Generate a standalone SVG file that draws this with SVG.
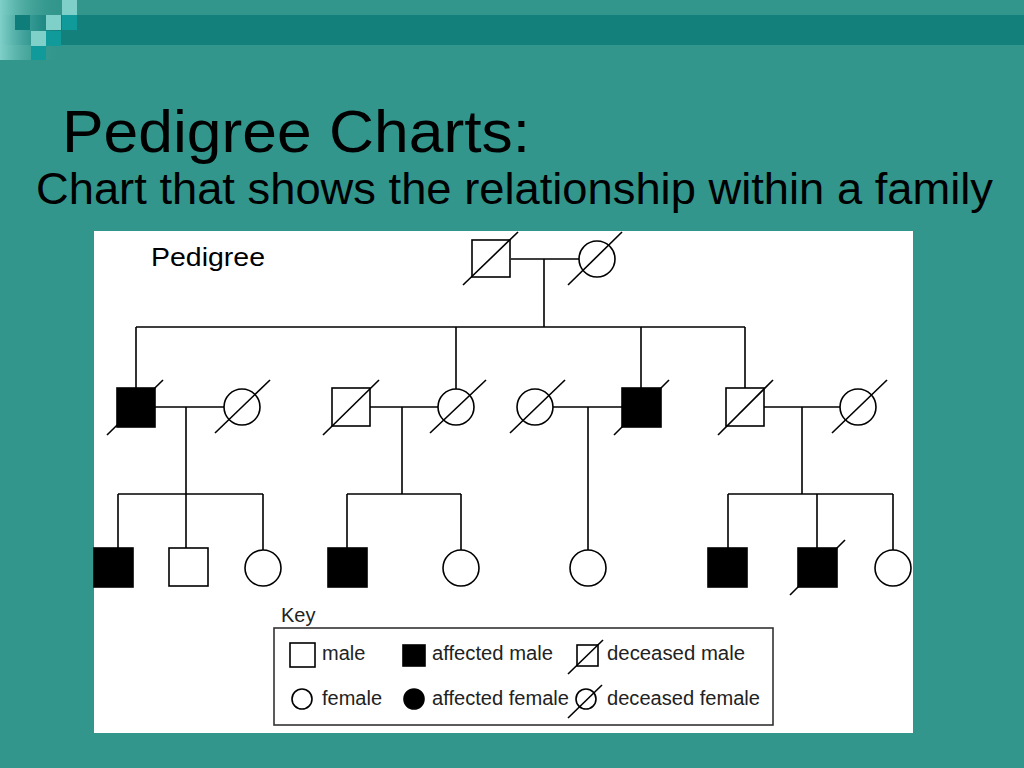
<svg xmlns="http://www.w3.org/2000/svg" width="1024" height="768" viewBox="0 0 1024 768">
<defs>
<linearGradient id="fade" x1="0" x2="1"><stop offset="0" stop-color="#7fd0c8"/><stop offset="1" stop-color="#32968c" stop-opacity="0"/></linearGradient>
</defs>
<style>
.ln{stroke:#000;stroke-width:1.6;fill:none}
.m{fill:#fff;stroke:#000;stroke-width:1.6}
.a{fill:#000;stroke:#000;stroke-width:1.6}
.t{font-family:"Liberation Sans",Arial,sans-serif;fill:#000}
.k{font-family:"Liberation Sans",Arial,sans-serif;font-size:20px;fill:#222}
</style>
<rect width="1024" height="768" fill="#32968c"/>
<rect x="0" y="15" width="1024" height="30" fill="#13807c"/>
<rect x="0" y="0" width="60" height="60" fill="url(#fade)"/>
<rect x="62" y="0" width="15" height="15" fill="#7fd0c8"/>
<rect x="15" y="15" width="15" height="15" fill="#0f7e7a"/>
<rect x="46" y="15" width="15" height="15" fill="#7fd0c8"/>
<rect x="62" y="15" width="15" height="15" fill="#119a9a"/>
<rect x="31" y="31" width="15" height="15" fill="#7fd0c8"/>
<rect x="46" y="31" width="15" height="15" fill="#119a9a"/>
<rect x="31" y="46" width="15" height="14" fill="#119a9a"/>
<text class="t" x="62" y="152" font-size="60" textLength="468" lengthAdjust="spacingAndGlyphs">Pedigree Charts:</text>
<text class="t" x="36" y="204" font-size="44" textLength="957" lengthAdjust="spacingAndGlyphs">Chart that shows the relationship within a family</text>
<rect x="94" y="231" width="819" height="502" fill="#fff"/>
<text class="t" x="151" y="266" font-size="25" fill="#222" textLength="114" lengthAdjust="spacingAndGlyphs">Pedigree</text>
<g id="connectors" class="ln">
<path d="M511 259H579M544 259V327M136 327H745M136 327V388M456 327V389M641 327V388M745 327V388"/>
<path d="M155 407H224M186 407V494M118 494H263M118 494V548M186 494V548M263 494V550"/>
<path d="M370 407H438M402 407V494M347 494H461M347 494V548M461 494V550"/>
<path d="M553 407H622M588 407V550"/>
<path d="M764 407H840M802 407V494M728 494H893M728 494V548M817 494V548M893 494V550"/>
</g>
<g id="gen1-father"><rect class="m" x="472" y="240" width="38" height="37"/><line class="ln" x1="463" y1="285" x2="518" y2="232"/></g>
<g id="gen1-mother"><circle class="m" cx="597" cy="259" r="18"/><line class="ln" x1="568" y1="285" x2="622" y2="232"/></g>
<g id="g2-m1"><rect class="a" x="117" y="388" width="38" height="39"/><line class="ln" x1="107" y1="435" x2="163" y2="380"/></g>
<g id="g2-f1"><circle class="m" cx="242" cy="407" r="18"/><line class="ln" x1="215" y1="433" x2="270" y2="380"/></g>
<g id="g2-m2"><rect class="m" x="332" y="388" width="38" height="38"/><line class="ln" x1="323" y1="435" x2="379" y2="380"/></g>
<g id="g2-f2"><circle class="m" cx="456" cy="407" r="18"/><line class="ln" x1="430" y1="433" x2="486" y2="380"/></g>
<g id="g2-f3"><circle class="m" cx="535" cy="407" r="18"/><line class="ln" x1="510" y1="433" x2="565" y2="380"/></g>
<g id="g2-m3"><rect class="a" x="622" y="388" width="39" height="39"/><line class="ln" x1="614" y1="435" x2="669" y2="380"/></g>
<g id="g2-m4"><rect class="m" x="726" y="388" width="38" height="38"/><line class="ln" x1="718" y1="435" x2="773" y2="380"/></g>
<g id="g2-f4"><circle class="m" cx="858" cy="407" r="18"/><line class="ln" x1="832" y1="433" x2="887" y2="380"/></g>
<g id="g3-1"><rect class="a" x="94" y="548" width="39" height="39"/></g>
<g id="g3-2"><rect class="m" x="169" y="548" width="39" height="38"/></g>
<g id="g3-3"><circle class="m" cx="263" cy="568" r="18"/></g>
<g id="g3-4"><rect class="a" x="328" y="548" width="39" height="39"/></g>
<g id="g3-5"><circle class="m" cx="461" cy="568" r="18"/></g>
<g id="g3-6"><circle class="m" cx="588" cy="568" r="18"/></g>
<g id="g3-7"><rect class="a" x="708" y="548" width="39" height="39"/></g>
<g id="g3-8"><rect class="a" x="798" y="548" width="39" height="39"/><line class="ln" x1="790" y1="595" x2="845" y2="540"/></g>
<g id="g3-9"><circle class="m" cx="893" cy="568" r="18"/></g>
<rect x="913" y="540" width="20" height="60" fill="#32968c"/>
<g id="key">
<text class="k" x="281" y="622">Key</text>
<rect x="274" y="628" width="499" height="97" fill="none" stroke="#333" stroke-width="1.6"/>
<rect class="m" x="290" y="643" width="25" height="24"/><text class="k" x="322" y="660">male</text>
<rect class="a" x="403" y="645" width="22" height="21"/><text class="k" x="432" y="660" textLength="121" lengthAdjust="spacingAndGlyphs">affected male</text>
<rect class="m" x="577" y="645" width="21" height="21"/><line class="ln" x1="568" y1="674" x2="603" y2="640"/><text class="k" x="607" y="660" textLength="138" lengthAdjust="spacingAndGlyphs">deceased male</text>
<circle class="m" cx="302" cy="699" r="10"/><text class="k" x="322" y="705" textLength="60" lengthAdjust="spacingAndGlyphs">female</text>
<circle class="a" cx="414" cy="699" r="10"/><text class="k" x="432" y="705" textLength="137" lengthAdjust="spacingAndGlyphs">affected female</text>
<circle class="m" cx="586" cy="699" r="10"/><line class="ln" x1="568" y1="718" x2="602" y2="685"/><text class="k" x="607" y="705" textLength="153" lengthAdjust="spacingAndGlyphs">deceased female</text>
</g>
</svg>
